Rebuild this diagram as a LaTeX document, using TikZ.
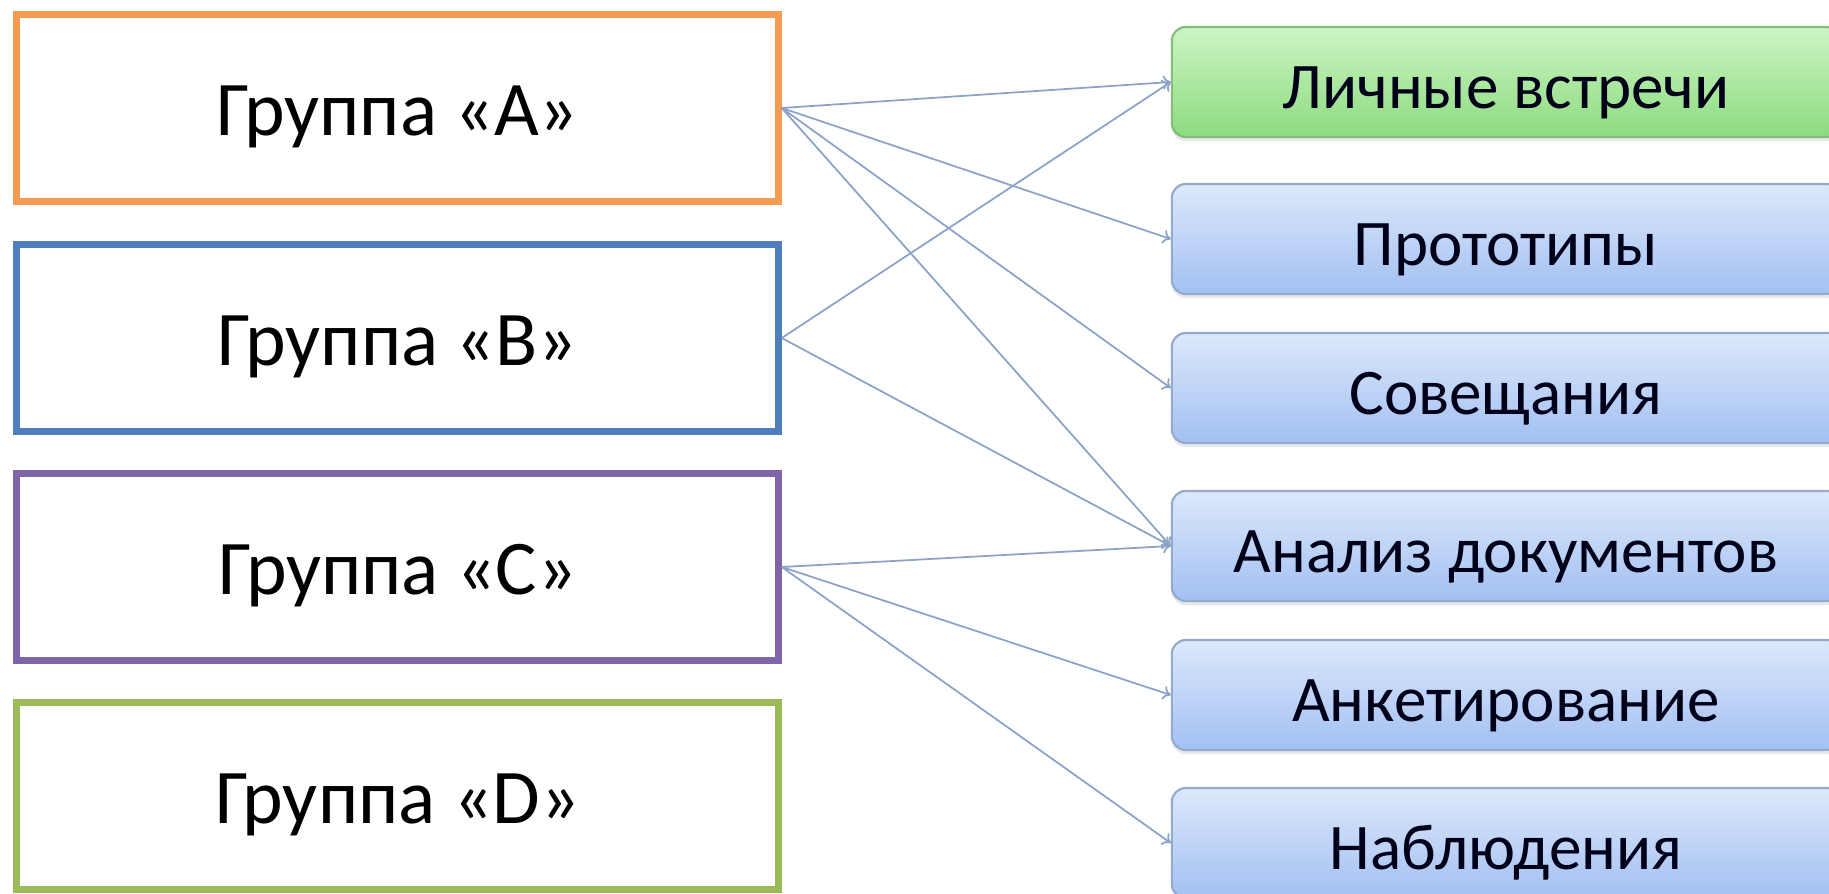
\documentclass[tikz,border=0pt]{standalone}
\usepackage{fontspec}
\setmainfont{Carlito}
\usetikzlibrary{arrows.meta}
\usetikzlibrary{shadows}

\definecolor{grpA}{HTML}{F39B50}
\definecolor{grpB}{HTML}{4F7EBD}
\definecolor{grpC}{HTML}{8064A8}
\definecolor{grpD}{HTML}{9BBB59}
\definecolor{linkcol}{HTML}{8CA2C8}
\definecolor{mblueT}{HTML}{DDE8FA}
\definecolor{mblueB}{HTML}{A2C0F2}
\definecolor{mblueD}{HTML}{94AACC}
\definecolor{mgreenT}{HTML}{CCF5C4}
\definecolor{mgreenB}{HTML}{8CDB7E}
\definecolor{mgreenD}{HTML}{84BC7C}

\begin{document}
\begin{tikzpicture}[x=0.01cm,y=-0.01cm,
  groupbox/.style={draw=#1, line width=2pt, fill=white, minimum width=7.61cm,
    minimum height=1.87cm, inner sep=0pt, font=\fontsize{22}{26}\selectfont,
    text height=19pt, text depth=3.4pt},
  methodbox/.style={draw=#1D, line width=0.6pt, rounded corners=0.14cm,
    top color=#1T, bottom color=#1B, minimum width=6.68cm, minimum height=1.1cm,
    inner sep=0pt, text=black!90!blue, font=\fontsize{18.5}{22}\selectfont,
    text height=18pt, text depth=3pt,
    drop shadow={shadow xshift=0pt, shadow yshift=-1.2pt, opacity=0.18}},
  link/.style={draw=linkcol, line width=0.5pt, -{To[length=2.2pt,width=4pt]}}]
\useasboundingbox (0,0) rectangle (1829,893);

\node[groupbox=grpA] (grA) at (397.5,108) {Группа «A»};
\node[groupbox=grpB] (grB) at (397.5,338) {Группа «B»};
\node[groupbox=grpC] (grC) at (397.5,567) {Группа «C»};
\node[groupbox=grpD] (grD) at (397.5,796) {Группа «D»};

\node[methodbox=mgreen] (mLich) at (1506,82) {Личные встречи};
\node[methodbox=mblue] (mProt) at (1506,239) {Прототипы};
\node[methodbox=mblue] (mSov) at (1506,388) {Совещания};
\node[methodbox=mblue] (mAnal) at (1506,546) {Анализ документов};
\node[methodbox=mblue] (mAnk) at (1506,695) {Анкетирование};
\node[methodbox=mblue] (mNab) at (1506,843) {Наблюдения};

\foreach \from/\to in {grA/mLich, grA/mProt, grA/mSov, grA/mAnal, grB/mLich,
  grB/mAnal, grC/mAnal, grC/mAnk, grC/mNab}
  \draw[link] (\from.east) -- (\to.west);
\end{tikzpicture}
\end{document}
